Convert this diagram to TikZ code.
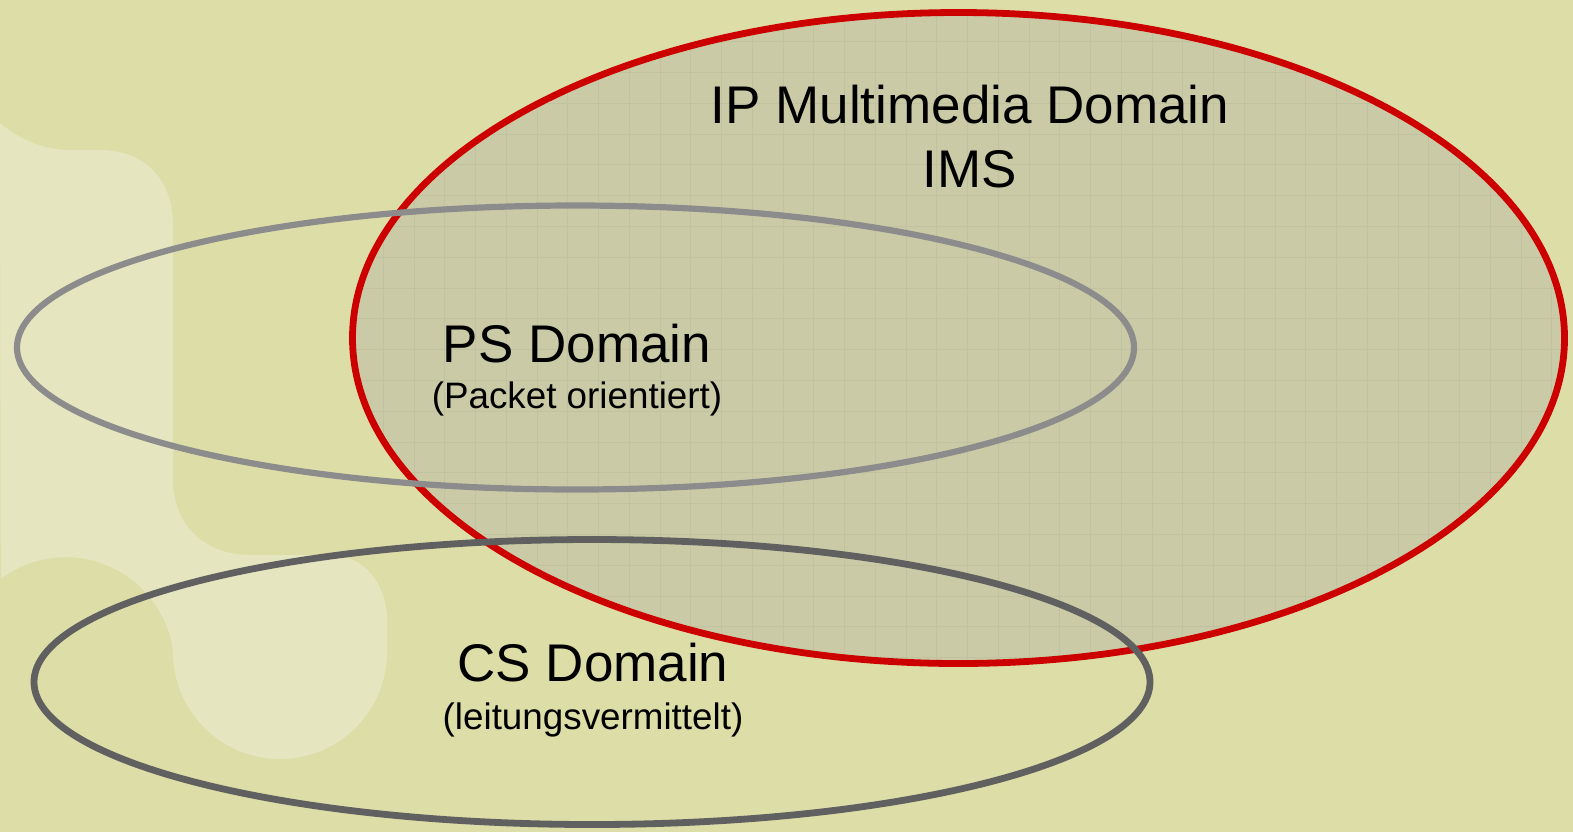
\documentclass[tikz,border=0pt]{standalone}
\usepackage{fontspec}
\setmainfont{Liberation Sans}
\usepackage{tikz}
\usetikzlibrary{positioning}
\definecolor{slidebg}{RGB}{221,221,168}
\definecolor{slidelight}{RGB}{229,229,192}
\definecolor{imsfill}{RGB}{202,203,166}
\definecolor{imsgrid}{RGB}{192,194,160}
\definecolor{imsred}{RGB}{204,0,0}
\definecolor{psgrey}{RGB}{140,140,140}
\definecolor{csgrey}{RGB}{96,96,96}

\begin{document}
\begin{tikzpicture}[
		x=0.5pt, y=-0.5pt,
		% Titel der Domains
		domtitle/.style={anchor=base, inner sep=0pt, font=\fontsize{26.5}{32}\selectfont},
		% Zusatz in Klammern
		domnote/.style={anchor=base, inner sep=0pt, font=\fontsize{18.4}{22}\selectfont},
		gridline/.style={draw=imsgrid, line width=0.5pt},
		domline/.style={line width=3.4pt}
		]
		\useasboundingbox (0,0) rectangle (1573,832);
		
		% --- 1. HINTERGRUND ---
		\fill[slidebg] (0,0) rectangle (1573,832);
		\fill[slidelight] (0,123) .. controls (20,140) and (45,150) .. (70,150) -- (100,150)
			.. controls (145,150) and (173,180) .. (173,225) -- (173,480)
			.. controls (173,525) and (205,555) .. (250,555) -- (330,555)
			.. controls (365,555) and (387,585) .. (387,620) -- (387,652)
			arc[start angle=0, end angle=180, radius=107]
			arc[start angle=-7, end angle=-127, radius=108] -- cycle;
		
		% --- 2. IMS (rot, mit Raster) ---
		\fill[imsfill] (958.5,338) ellipse [x radius=606, y radius=325.5];
		\begin{scope}
			\clip (958.5,338) ellipse [x radius=606, y radius=325.5];
			\foreach \k in {-9,...,30}
				\draw[gridline] ({629.3+\k*30.75},0) -- ({629.3+\k*30.75},832);
			\foreach \k in {-8,...,13}
				\draw[gridline] (300,{257.3+\k*30.8}) -- (1600,{257.3+\k*30.8});
		\end{scope}
		\draw[domline, imsred] (958.5,338) ellipse [x radius=606, y radius=325.5];
		
		% --- 3. PS und CS ---
		\draw[domline, psgrey, line width=3.1pt] (575.5,347.5) ellipse [x radius=558.5, y radius=142];
		\draw[domline, csgrey] (592,682) ellipse [x radius=558, y radius=142.5];
		
		% --- 4. TEXTE ---
		\node[domtitle] (imsname) at (970,123) {IP Multimedia Domain};
		\node[domtitle] (imsshort) at (970,187) {IMS};
		\node[domtitle] (psname) at (577,362) {PS Domain};
		\node[domnote] (psnote) at (577,408) {(Packet orientiert)};
		\node[domtitle] (csname) at (593,681) {CS Domain};
		\node[domnote] (csnote) at (593,729) {(leitungsvermittelt)};
	\end{tikzpicture}
\end{document}
